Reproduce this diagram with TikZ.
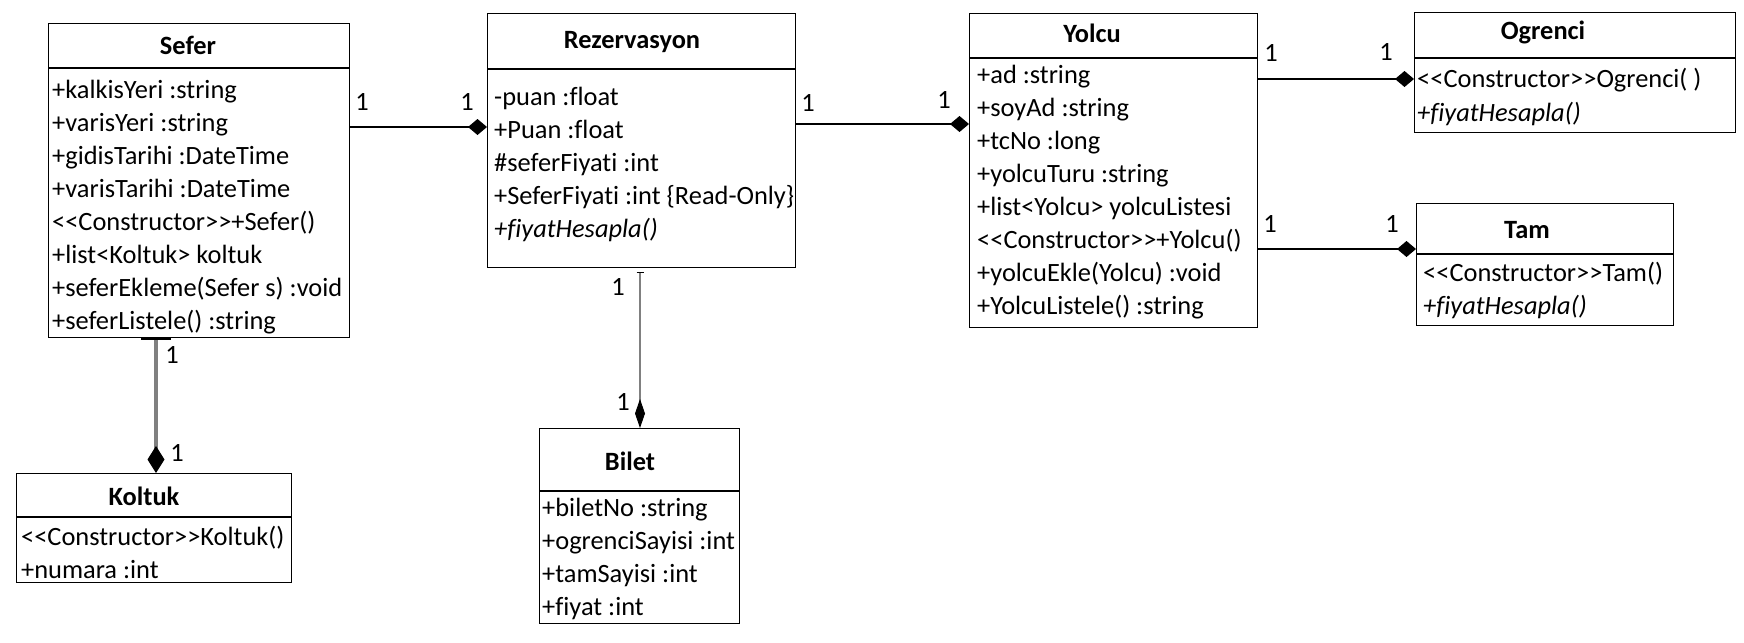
\documentclass[tikz,border=0pt]{standalone}
\usepackage{fontspec}
\setmainfont{Carlito}[Ligatures=NoCommon]
\usetikzlibrary{arrows.meta}

\newcommand{\umlsize}{\fontsize{26.4pt}{33pt}\selectfont}
\tikzset{
  classbox/.style={draw,line width=1.2pt,anchor=north west,inner sep=0pt},
  classtitle/.style={font=\umlsize\bfseries,inner sep=0pt},
  member/.style={anchor=west,inner sep=0pt,text height=22pt,text depth=6pt},
  mult/.style={inner sep=0pt},
  assoc/.style={line width=1.6pt,-{Diamond[length=19pt,width=16pt]}},
  compo/.style={draw=gray}
}

\begin{document}
\begin{tikzpicture}[x=1pt,y=-1pt,font=\umlsize]
  \useasboundingbox (0,0) rectangle (1744,642);
  % Sefer
  \node[classbox,minimum width=301pt,minimum height=314pt] (sefer) at (48,23) {};
  \draw[line width=1.2pt] (sefer.west |- 0,68) -- (sefer.east |- 0,68);
  \node[classtitle] (sefer-t) at (188,45) {Sefer};
  \foreach \txt [count=\i] in {+kalkisYeri :string, +varisYeri :string,
      +gidisTarihi :DateTime, +varisTarihi :DateTime, <{}<Constructor>{}>+Sefer(),
      +list<Koltuk> koltuk, +seferEkleme(Sefer s) :void, +seferListele() :string}
    \node[member] (sefer-\i) at (52,57+33*\i) {\txt};
  % Rezervasyon
  \node[classbox,minimum width=308pt,minimum height=254pt] (rez) at (487,13) {};
  \draw[line width=1.2pt] (rez.west |- 0,69) -- (rez.east |- 0,69);
  \node[classtitle] (rez-t) at (632,42) {Rezervasyon};
  \foreach \txt [count=\i] in {-puan :float, +Puan :float, \#seferFiyati :int,
      +SeferFiyati :int \{Read-Only\}, {\itshape +fiyatHesapla()}}
    \node[member] (rez-\i) at (494,64+33*\i) {\txt};
  % Yolcu
  \node[classbox,minimum width=288pt,minimum height=314pt] (yolcu) at (969,13) {};
  \draw[line width=1.2pt] (yolcu.west |- 0,58) -- (yolcu.east |- 0,58);
  \node[classtitle] (yolcu-t) at (1092,33) {Yolcu};
  \foreach \txt [count=\i] in {+ad :string, +soyAd :string, +tcNo :long,
      +yolcuTuru :string, +list<Yolcu> yolcuListesi, <{}<Constructor>{}>+Yolcu(),
      +yolcuEkle(Yolcu) :void, +YolcuListele() :string}
    \node[member] (yolcu-\i) at (977,42+33*\i) {\txt};
  % Ogrenci
  \node[classbox,minimum width=321pt,minimum height=120pt] (ogrenci) at (1414,12) {};
  \draw[line width=1.2pt] (ogrenci.west |- 0,58) -- (ogrenci.east |- 0,58);
  \node[classtitle] (ogrenci-t) at (1543,32) {Ogrenci};
  \node[member] (ogrenci-1) at (1417,80) {<{}<Constructor>{}>Ogrenci( )};
  \node[member] (ogrenci-2) at (1417,113) {\itshape +fiyatHesapla()};
  % Tam
  \node[classbox,minimum width=257pt,minimum height=122pt] (tam) at (1416,203) {};
  \draw[line width=1.2pt] (tam.west |- 0,254) -- (tam.east |- 0,254);
  \node[classtitle] (tam-t) at (1527,230) {Tam};
  \node[member] (tam-1) at (1423,273) {<{}<Constructor>{}>Tam()};
  \node[member] (tam-2) at (1423,306) {\itshape +fiyatHesapla()};
  % Koltuk
  \node[classbox,minimum width=275pt,minimum height=109pt] (koltuk) at (16,473) {};
  \draw[line width=1.2pt] (koltuk.west |- 0,517) -- (koltuk.east |- 0,517);
  \node[classtitle] (koltuk-t) at (144,496) {Koltuk};
  \node[member] (koltuk-1) at (21,537) {<{}<Constructor>{}>Koltuk()};
  \node[member] (koltuk-2) at (21,570) {+numara :int};
  % Bilet
  \node[classbox,minimum width=200pt,minimum height=195pt] (bilet) at (539,428) {};
  \draw[line width=1.2pt] (bilet.west |- 0,491) -- (bilet.east |- 0,491);
  \node[classtitle] (bilet-t) at (630,461) {Bilet};
  \foreach \txt [count=\i] in {+biletNo :string, +ogrenciSayisi :int,
      +tamSayisi :int, +fiyat :int}
    \node[member] (bilet-\i) at (542,475+33*\i) {\txt};

  % associations with multiplicities
  \draw[assoc] (sefer.east |- 0,127) -- (rez.west |- 0,127);
  \node[mult] (m-sr1) at (362,102) {1};
  \node[mult] (m-sr2) at (467,102) {1};
  \draw[assoc] (rez.east |- 0,124) -- (yolcu.west |- 0,124);
  \node[mult] (m-ry1) at (808,103) {1};
  \node[mult] (m-ry2) at (944,100) {1};
  \draw[assoc] (yolcu.east |- 0,79) -- (ogrenci.west |- 0,79);
  \node[mult] (m-yo1) at (1271,53) {1};
  \node[mult] (m-yo2) at (1386,52) {1};
  \draw[assoc] (yolcu.east |- 0,249) -- (tam.west |- 0,249);
  \node[mult] (m-yt1) at (1270,224) {1};
  \node[mult] (m-yt2) at (1392,224) {1};
  \draw[compo,line width=3.5pt,{Bar[width=30pt,line width=1.5pt,color=black]}-{Diamond[length=27pt,width=17pt,line width=1pt,color=black]}]
    (sefer.south -| 156,0) -- (koltuk.north -| 156,0);
  \node[mult] (m-sk1) at (172,355) {1};
  \node[mult] (m-sk2) at (177,453) {1};
  \draw[compo,line width=2pt,shorten <=4pt,{Bar[width=7pt,line width=1pt,color=black]}-{Diamond[length=29pt,width=10pt,line width=1pt,color=black]}]
    (rez.south -| 640,0) -- (bilet.north -| 640,0);
  \node[mult] (m-rb1) at (618,287) {1};
  \node[mult] (m-rb2) at (623,402) {1};
\end{tikzpicture}
\end{document}
